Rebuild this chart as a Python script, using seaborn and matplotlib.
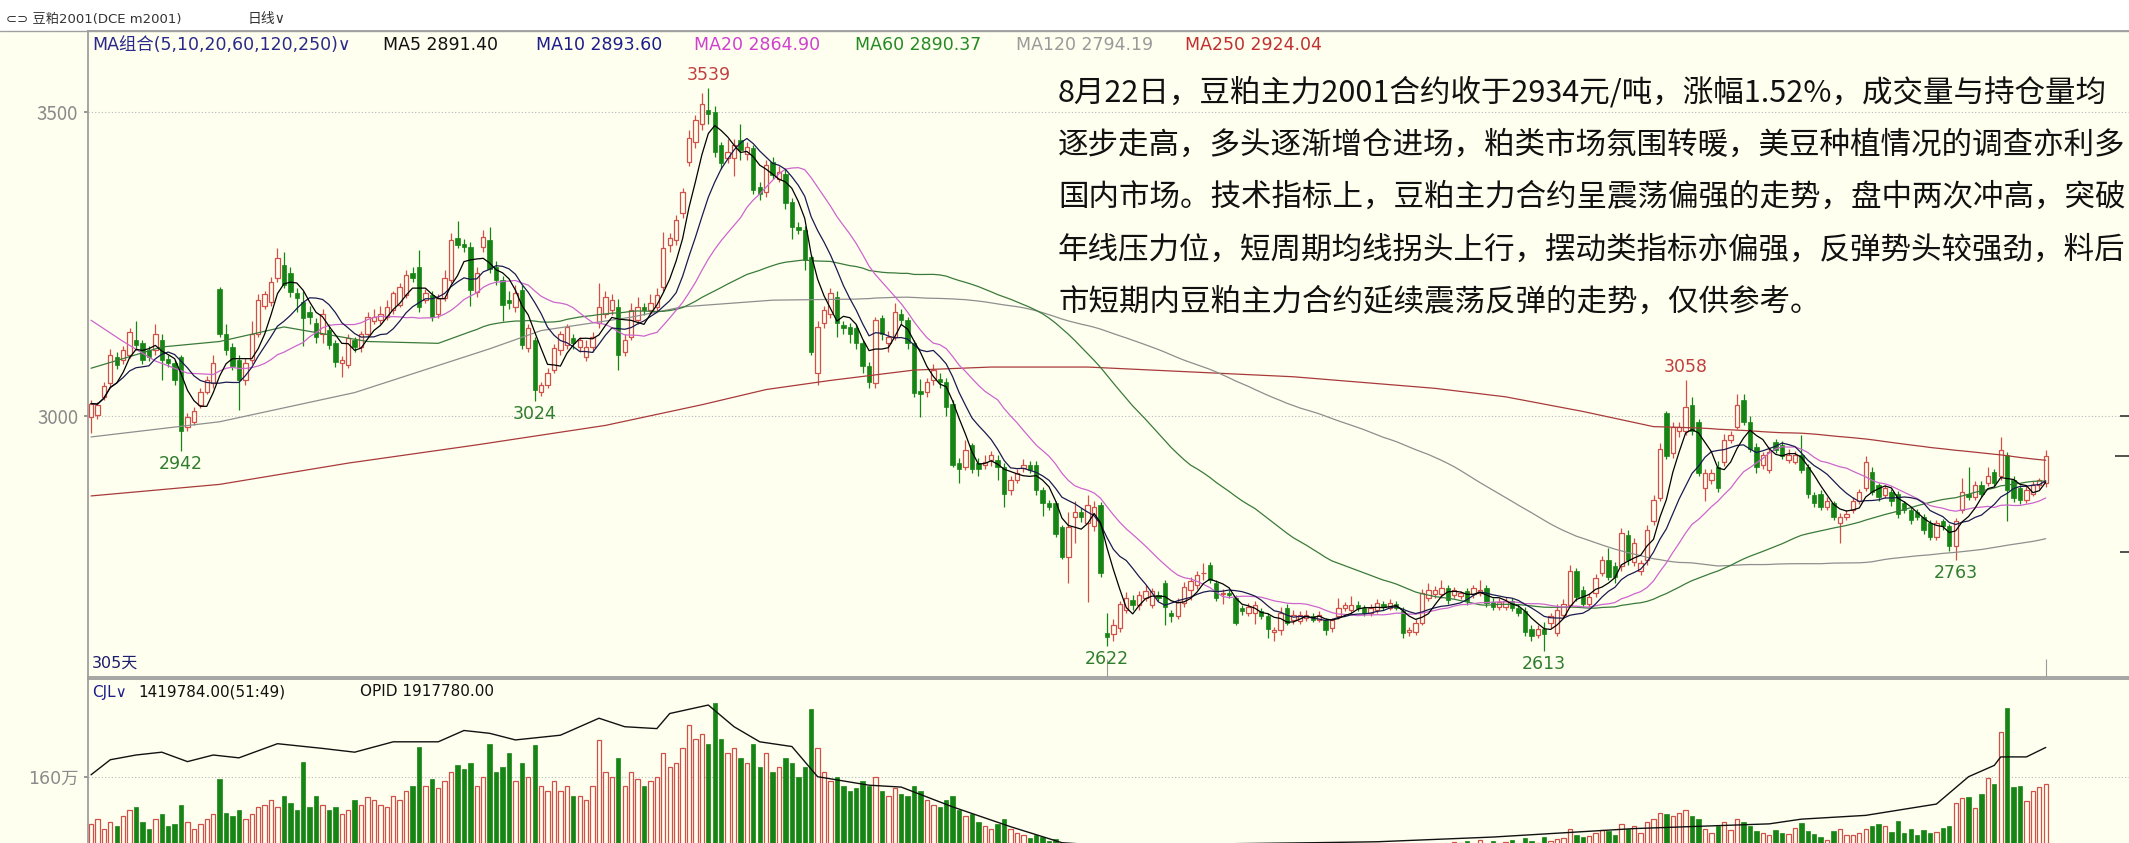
import numpy as np
import pandas as pd
import matplotlib
matplotlib.use("Agg")
import matplotlib.pyplot as plt
from matplotlib.patches import Rectangle
from matplotlib.lines import Line2D
import seaborn as sns

W, H = 2129, 843

# daily candles, 305 days (m2001)
opens = [
    2998, 3001, 3031, 3053, 3097, 3092, 3100, 3124, 3119, 3108,
    3108, 3124, 3094, 3086, 3097, 2982, 2990, 3018, 3039, 3053,
    3209, 3135, 3113, 3092, 3059, 3092, 3135, 3180, 3187, 3226,
    3248, 3234, 3201, 3187, 3171, 3152, 3135, 3141, 3119, 3086,
    3083, 3124, 3113, 3135, 3155, 3157, 3163, 3174, 3182, 3198,
    3234, 3245, 3190, 3198, 3168, 3193, 3223, 3292, 3283, 3278,
    3204, 3278, 3289, 3245, 3223, 3190, 3179, 3207, 3111, 3124,
    3039, 3050, 3075, 3108, 3116, 3127, 3113, 3097, 3113, 3152,
    3168, 3174, 3179, 3105, 3130, 3157, 3179, 3174, 3179, 3212,
    3280, 3289, 3333, 3418, 3450, 3480, 3503, 3500, 3445, 3423,
    3423, 3453, 3431, 3440, 3376, 3368, 3418, 3390, 3398, 3352,
    3311, 3305, 3261, 3070, 3152, 3168, 3196, 3149, 3146, 3144,
    3119, 3081, 3053, 3160, 3119, 3130, 3168, 3157, 3119, 3040,
    3039, 3059, 3061, 3056, 3020, 2922, 2916, 2952, 2922, 2919,
    2927, 2927, 2916, 2878, 2894, 2914, 2919, 2919, 2878, 2856,
    2856, 2817, 2768, 2834, 2842, 2823, 2818, 2853, 2642, 2641,
    2651, 2681, 2697, 2689, 2700, 2689, 2705, 2724, 2676, 2670,
    2692, 2713, 2722, 2741, 2754, 2724, 2706, 2709, 2700, 2683,
    2675, 2675, 2678, 2670, 2645, 2648, 2684, 2664, 2662, 2667,
    2670, 2664, 2664, 2650, 2670, 2684, 2681, 2689, 2683, 2676,
    2681, 2690, 2684, 2690, 2678, 2645, 2645, 2659, 2700, 2706,
    2706, 2717, 2705, 2703, 2711, 2706, 2708, 2717, 2694, 2686,
    2686, 2695, 2684, 2679, 2649, 2640, 2649, 2659, 2642, 2672,
    2689, 2744, 2713, 2691, 2708, 2741, 2763, 2752, 2752, 2804,
    2760, 2744, 2763, 2826, 2864, 3004, 2938, 2974, 2974, 3017,
    2990, 2881, 2894, 2916, 2924, 2960, 2982, 3026, 2990, 2949,
    2919, 2911, 2957, 2952, 2927, 2924, 2935, 2916, 2870, 2872,
    2850, 2856, 2823, 2834, 2845, 2859, 2881, 2908, 2886, 2870,
    2875, 2872, 2856, 2845, 2842, 2834, 2823, 2801, 2826, 2818,
    2785, 2845, 2872, 2867, 2886, 2889, 2908, 2900, 2935, 2894,
    2881, 2861, 2872, 2886, 2889,
]
highs = [
    3026, 3022, 3055, 3110, 3105, 3115, 3145, 3155, 3125, 3115,
    3150, 3135, 3100, 3092, 3100, 3005, 3015, 3045, 3065, 3100,
    3212, 3150, 3120, 3100, 3095, 3155, 3200, 3205, 3228, 3275,
    3270, 3245, 3210, 3205, 3180, 3160, 3175, 3150, 3125, 3098,
    3135, 3130, 3140, 3170, 3175, 3180, 3190, 3205, 3218, 3240,
    3245, 3272, 3208, 3205, 3200, 3240, 3300, 3320, 3290, 3285,
    3245, 3305, 3310, 3255, 3230, 3205, 3215, 3215, 3150, 3130,
    3055, 3078, 3118, 3140, 3150, 3135, 3130, 3125, 3138, 3218,
    3205, 3200, 3192, 3135, 3185, 3195, 3185, 3200, 3210, 3302,
    3300, 3330, 3375, 3470, 3495, 3530, 3539, 3510, 3450, 3455,
    3455, 3480, 3450, 3445, 3385, 3420, 3425, 3410, 3405, 3358,
    3318, 3312, 3265, 3155, 3180, 3210, 3205, 3155, 3152, 3150,
    3125, 3088, 3162, 3165, 3140, 3185, 3175, 3162, 3125, 3060,
    3062, 3085, 3070, 3062, 3025, 2930, 2960, 2955, 2930, 2935,
    2942, 2935, 2922, 2900, 2912, 2928, 2925, 2925, 2882, 2862,
    2860, 2820, 2842, 2860, 2848, 2870, 2860, 2858, 2675, 2665,
    2695, 2710, 2705, 2712, 2722, 2716, 2712, 2730, 2680, 2700,
    2727, 2735, 2745, 2758, 2760, 2730, 2715, 2714, 2705, 2688,
    2692, 2695, 2684, 2675, 2652, 2685, 2690, 2680, 2678, 2680,
    2676, 2678, 2668, 2668, 2700, 2693, 2703, 2695, 2688, 2690,
    2698, 2695, 2698, 2695, 2685, 2652, 2665, 2715, 2725, 2720,
    2730, 2722, 2718, 2712, 2716, 2722, 2730, 2722, 2700, 2700,
    2702, 2700, 2690, 2685, 2655, 2655, 2660, 2675, 2690, 2698,
    2755, 2750, 2720, 2708, 2740, 2770, 2782, 2760, 2815, 2812,
    2798, 2762, 2820, 2870, 2955, 3008, 2990, 2990, 3058, 3030,
    2995, 2912, 2912, 2925, 2970, 2975, 3035, 3035, 3000, 2955,
    2940, 2948, 2962, 2958, 2945, 2942, 2968, 2920, 2875, 2878,
    2866, 2860, 2840, 2845, 2866, 2880, 2933, 2915, 2890, 2886,
    2880, 2876, 2860, 2850, 2846, 2838, 2828, 2828, 2830, 2822,
    2832, 2897, 2916, 2892, 2892, 2916, 2912, 2965, 2940, 2900,
    2886, 2884, 2892, 2898, 2944,
]
lows = [
    2972, 2995, 3025, 3045, 3076, 3085, 3095, 3108, 3085, 3090,
    3100, 3059, 3080, 3050, 2942, 2975, 2985, 3012, 3035, 3045,
    3130, 3100, 3075, 3010, 3050, 3085, 3130, 3175, 3180, 3220,
    3210, 3195, 3170, 3115, 3150, 3120, 3120, 3110, 3080, 3064,
    3078, 3105, 3105, 3130, 3150, 3150, 3158, 3168, 3178, 3193,
    3220, 3170, 3185, 3155, 3160, 3188, 3218, 3275, 3270, 3180,
    3195, 3270, 3235, 3215, 3155, 3175, 3170, 3110, 3105, 3024,
    3033, 3045, 3070, 3100, 3110, 3110, 3105, 3090, 3105, 3145,
    3160, 3165, 3075, 3098, 3125, 3150, 3165, 3168, 3172, 3205,
    3270, 3280, 3325, 3410, 3440, 3470, 3480, 3425, 3405, 3415,
    3395, 3420, 3420, 3365, 3355, 3360, 3390, 3385, 3340, 3290,
    3298, 3240, 3100, 3050, 3145, 3160, 3130, 3135, 3120, 3110,
    3070, 3045, 3045, 3125, 3105, 3125, 3150, 3110, 3030, 2998,
    3030, 3050, 3045, 3000, 2915, 2890, 2910, 2905, 2900, 2912,
    2918, 2895, 2850, 2870, 2890, 2908, 2905, 2870, 2835, 2845,
    2800, 2765, 2724, 2790, 2825, 2694, 2810, 2735, 2622, 2630,
    2645, 2675, 2680, 2680, 2695, 2683, 2695, 2655, 2660, 2665,
    2686, 2697, 2715, 2730, 2725, 2695, 2690, 2700, 2655, 2672,
    2670, 2658, 2665, 2635, 2630, 2640, 2655, 2658, 2658, 2662,
    2660, 2660, 2640, 2645, 2665, 2678, 2676, 2678, 2670, 2670,
    2676, 2680, 2680, 2680, 2635, 2638, 2640, 2655, 2695, 2700,
    2700, 2690, 2700, 2698, 2688, 2700, 2703, 2686, 2680, 2680,
    2680, 2678, 2670, 2638, 2630, 2635, 2613, 2650, 2638, 2668,
    2685, 2695, 2685, 2686, 2702, 2736, 2730, 2725, 2745, 2755,
    2752, 2738, 2755, 2820, 2860, 2928, 2930, 2965, 2968, 2968,
    2900, 2859, 2888, 2875, 2918, 2955, 2978, 2985, 2940, 2905,
    2912, 2905, 2938, 2928, 2922, 2920, 2905, 2865, 2850, 2845,
    2845, 2828, 2790, 2828, 2840, 2854, 2876, 2870, 2860, 2865,
    2852, 2832, 2840, 2822, 2828, 2806, 2795, 2796, 2812, 2778,
    2763, 2840, 2862, 2862, 2866, 2884, 2884, 2895, 2826, 2858,
    2855, 2856, 2868, 2880, 2883,
]
closes = [
    3020, 3018, 3048, 3100, 3083, 3108, 3138, 3116, 3092, 3097,
    3135, 3092, 3086, 3059, 2974, 2998, 3007, 3039, 3059, 3086,
    3135, 3108, 3081, 3059, 3086, 3135, 3190, 3200, 3220, 3259,
    3215, 3204, 3193, 3160, 3163, 3130, 3168, 3116, 3089, 3092,
    3127, 3113, 3135, 3163, 3163, 3168, 3179, 3201, 3212, 3231,
    3226, 3179, 3201, 3163, 3193, 3226, 3289, 3281, 3278, 3207,
    3234, 3294, 3242, 3223, 3182, 3185, 3201, 3116, 3144, 3042,
    3050, 3070, 3111, 3135, 3146, 3119, 3124, 3113, 3130, 3179,
    3196, 3190, 3100, 3124, 3174, 3179, 3174, 3185, 3198, 3275,
    3292, 3322, 3368, 3456, 3486, 3513, 3497, 3434, 3415, 3434,
    3445, 3437, 3442, 3371, 3365, 3412, 3396, 3401, 3349, 3311,
    3305, 3256, 3105, 3146, 3174, 3201, 3152, 3144, 3135, 3119,
    3081, 3056, 3157, 3135, 3130, 3171, 3157, 3119, 3037, 3036,
    3056, 3075, 3056, 3015, 2919, 2913, 2944, 2913, 2913, 2924,
    2935, 2916, 2872, 2894, 2905, 2919, 2911, 2878, 2856, 2850,
    2806, 2768, 2817, 2842, 2834, 2853, 2850, 2741, 2636, 2655,
    2690, 2700, 2689, 2705, 2711, 2711, 2700, 2686, 2670, 2694,
    2719, 2728, 2738, 2741, 2730, 2700, 2708, 2705, 2659, 2678,
    2686, 2689, 2670, 2649, 2648, 2676, 2659, 2672, 2672, 2672,
    2664, 2672, 2648, 2664, 2684, 2689, 2689, 2683, 2676, 2684,
    2692, 2686, 2692, 2684, 2642, 2648, 2659, 2709, 2714, 2714,
    2717, 2697, 2714, 2708, 2695, 2717, 2714, 2692, 2686, 2694,
    2695, 2684, 2676, 2644, 2638, 2649, 2641, 2670, 2681, 2691,
    2744, 2702, 2691, 2702, 2733, 2763, 2735, 2735, 2807, 2763,
    2790, 2757, 2812, 2861, 2946, 2933, 2982, 2982, 3015, 2974,
    2905, 2905, 2905, 2881, 2960, 2968, 3017, 2990, 2946, 2916,
    2935, 2941, 2944, 2933, 2935, 2935, 2911, 2872, 2856, 2850,
    2859, 2834, 2834, 2839, 2859, 2875, 2924, 2875, 2867, 2881,
    2859, 2839, 2845, 2828, 2834, 2812, 2801, 2823, 2818, 2785,
    2826, 2875, 2867, 2886, 2872, 2900, 2889, 2944, 2878, 2864,
    2861, 2878, 2886, 2894, 2934,
]
# volume in 万手 (lower part of the panel is cut off in the screenshot)
volumes = [
    110, 115, 105, 112, 108, 118, 125, 128, 112, 105,
    115, 120, 108, 110, 130, 112, 105, 110, 115, 120,
    158, 122, 118, 125, 115, 120, 128, 130, 135, 128,
    140, 132, 125, 176, 128, 140, 130, 125, 128, 120,
    125, 135, 130, 138, 135, 130, 128, 140, 135, 145,
    150, 192, 150, 158, 148, 155, 165, 172, 168, 175,
    150, 160, 195, 165, 170, 185, 155, 175, 160, 194,
    150, 145, 155, 145, 150, 140, 140, 135, 150, 199,
    165, 160, 180, 150, 165, 158, 150, 155, 160, 185,
    170, 175, 190, 215, 200, 205, 195, 238, 200, 185,
    190, 180, 175, 195, 170, 185, 165, 170, 180, 175,
    160, 170, 232, 190, 165, 155, 160, 150, 145, 148,
    155, 150, 160, 145, 140, 148, 142, 140, 150, 145,
    135, 130, 128, 135, 140, 125, 118, 120, 112, 108,
    105, 110, 115, 105, 100, 98, 95, 98, 96, 92,
    94, 86, 88, 84, 82, 87, 85, 88, 80, 78,
    75, 72, 70, 68, 66, 70, 64, 68, 62, 60,
    64, 62, 60, 58, 62, 60, 64, 66, 62, 60,
    58, 56, 60, 58, 55, 57, 60, 58, 62, 60,
    58, 56, 60, 62, 64, 60, 58, 62, 66, 70,
    68, 72, 70, 68, 75, 78, 80, 84, 82, 86,
    88, 86, 91, 90, 92, 88, 93, 90, 92, 89,
    91, 93, 90, 95, 92, 90, 96, 92, 94, 95,
    105, 98, 96, 97, 100, 104, 102, 98, 110, 105,
    108, 100, 112, 115, 122, 120, 118, 121, 125, 118,
    115, 105, 100, 108, 112, 103, 115, 112, 108, 102,
    100, 98, 104, 100, 99, 106, 111, 102, 99, 96,
    93, 102, 105, 98, 98, 100, 105, 108, 110, 108,
    101, 113, 100, 105, 98, 103, 100, 101, 106, 108,
    132, 137, 139, 127, 142, 159, 152, 207, 233, 149,
    150, 134, 145, 149, 152,
]
# open interest line (same panel), sampled days
opid_idx = [0, 3, 7, 11, 15, 19, 23, 29, 36, 41, 47, 54, 58, 62, 66, 73, 79, 83, 88, 90,
            96, 100, 104, 109, 113, 121, 126, 134, 143, 151, 165, 178, 190, 200, 218, 240,
            261, 266, 276, 287, 292, 296, 297, 301, 304]
opid_vals = [162, 178, 183, 186, 176, 183, 180, 195, 190, 186, 197, 197, 209, 206, 199, 204,
             222, 213, 211, 227, 236, 213, 197, 192, 160, 151, 149, 128, 107, 90, 84, 89, 90,
             91, 96, 105, 110, 115, 119, 131, 160, 172, 181, 181, 191]

# start of the longer averages (history before the window is not on screen)
ma20_head_idx = [0, 5, 10, 15]
ma20_head = [3157, 3122, 3090, 3070]
ma60_head_idx = [0, 11, 20, 30, 36, 43, 54]
ma60_head = [3078, 3113, 3122, 3146, 3135, 3122, 3119]
ma120_head_idx = [0, 20, 41, 62, 70, 84, 92, 106]
ma120_head = [2965, 2990, 3038, 3110, 3140, 3162, 3179, 3190]
ma250_head_idx = [0, 20, 40, 60, 80, 95, 105, 115, 128, 140, 155, 165, 187, 209, 220, 232, 243]
ma250_head = [2868, 2887, 2922, 2952, 2984, 3018, 3043, 3058, 3075, 3080, 3080, 3075, 3064,
              3045, 3031, 3007, 2982]

peak_idx = [96, 248]
trough_idx = [14, 69, 158, 226, 290]

text_lines = [
    "8月22日，豆粕主力2001合约收于2934元/吨，涨幅1.52%，成交量与持仓量均",
    "逐步走高，多头逐渐增仓进场，粕类市场氛围转暖，美豆种植情况的调查亦利多",
    "国内市场。技术指标上，豆粕主力合约呈震荡偏强的走势，盘中两次冲高，突破",
    "年线压力位，短周期均线拐头上行，摆动类指标亦偏强，反弹势头较强劲，料后",
    "市短期内豆粕主力合约延续震荡反弹的走势，仅供参考。",
]

BG = "#FFFFF0"
RED = "#D0504A"
GREEN = "#168516"
GRAY = "#8A8A8A"

sns.set_theme(style="white")
plt.rcParams["font.family"] = ["Noto Sans CJK SC", "DejaVu Sans"]
plt.rcParams["axes.unicode_minus"] = False
LAT = ["DejaVu Sans", "Noto Sans CJK SC"]
CJK = ["Noto Sans CJK SC", "DejaVu Sans"]

df = pd.DataFrame({"open": opens, "high": highs, "low": lows, "close": closes, "vol": volumes})
assert len(df) == 305
df["idx"] = np.arange(len(df))
up = (df["close"] >= df["open"]).values


def fx(px):
    return px / W


def fy(py):
    return 1 - py / H


fig = plt.figure(figsize=(W / 100, H / 100), dpi=100, facecolor=BG)
fig.add_artist(Rectangle((0, fy(31)), 1, 1 - fy(31), transform=fig.transFigure,
                         facecolor="white", edgecolor="none", zorder=0))
fig.add_artist(Line2D([0, 1], [fy(31), fy(31)], transform=fig.transFigure, color="#A0A0A0", lw=1))

ax = fig.add_axes([fx(88), fy(677), 1 - fx(88), fy(31) - fy(677)])
vax = fig.add_axes([fx(88), 0, 1 - fx(88), fy(679)], sharex=ax)
for a in (ax, vax):
    a.set_facecolor(BG)

# candles
lo_body = np.minimum(df["open"], df["close"]).values
h_body = np.maximum(np.abs(df["close"] - df["open"]).values, 0.8)
ax.vlines(df["idx"][up], df["low"][up], df["high"][up], color=RED, lw=0.9, zorder=2)
ax.vlines(df["idx"][~up], df["low"][~up], df["high"][~up], color=GREEN, lw=0.9, zorder=2)
ax.bar(df["idx"][up], h_body[up], bottom=lo_body[up], width=0.68,
       facecolor=BG, edgecolor=RED, lw=0.9, zorder=3)
ax.bar(df["idx"][~up], h_body[~up], bottom=lo_body[~up], width=0.68,
       facecolor=GREEN, edgecolor=GREEN, lw=0.5, zorder=3)


def ma_frame(n, head_idx=None, head_vals=None):
    if head_idx is None:
        roll = df["close"].rolling(n, min_periods=1).mean()
        return pd.DataFrame({"x": df["idx"], "y": roll})
    roll = df["close"].rolling(n).mean()
    xs = list(head_idx) + list(range(n - 1, len(df)))
    ys = list(head_vals) + list(roll.iloc[n - 1:])
    return pd.DataFrame({"x": xs, "y": ys})


ma_lines = [
    (ma_frame(250, ma250_head_idx, ma250_head), "#A83A3A"),
    (ma_frame(120, ma120_head_idx, ma120_head), "#8E8E8E"),
    (ma_frame(60, ma60_head_idx, ma60_head), "#3A7A3A"),
    (ma_frame(20, ma20_head_idx, ma20_head), "#CC66CC"),
    (ma_frame(10), "#1A1A50"),
    (ma_frame(5), "#000000"),
]
for frame, col in ma_lines:
    sns.lineplot(data=frame, x="x", y="y", ax=ax, color=col, lw=0.9, zorder=4)

# extreme price labels
for i in peak_idx:
    ax.annotate(str(highs[i]), (i, highs[i]), xytext=(0, 3), textcoords="offset points",
                ha="center", va="bottom", color="#C04040", fontsize=12.5, family=LAT)
for i in trough_idx:
    ax.annotate(str(lows[i]), (i, lows[i]), xytext=(0, -3), textcoords="offset points",
                ha="center", va="top", color="#2E7D2E", fontsize=12.5, family=LAT)

ax.set_xlim(-0.47, 316.95)
ax.set_ylim(2570.2, 3632.7)
ax.set_xticks([])
ax.set_yticks([3000, 3500])
ax.tick_params(axis="y", colors=GRAY, labelsize=13.5, length=3, pad=4, left=True)
ax.yaxis.grid(True, ls=(0, (1, 2)), color="#B8B8B8", lw=0.8)
ax.set_xlabel("")
ax.set_ylabel("")
for s in ("left", "bottom", "top"):
    ax.spines[s].set_color("#9A9A9A")
ax.spines["right"].set_visible(False)

# small markers on the right edge and at the bottom
ax.hlines([3000, 2775], 315.6, 316.95, color="#333333", lw=1.2)
ax.hlines([closes[-1]], 314.7, 316.95, color="#333333", lw=1.2)
ax.vlines([158, 304], 2570.2, 2600, color="#9A9A9A", lw=0.8)

# volume panel
vax.bar(df["idx"][up], df["vol"][up], width=0.68, facecolor=BG, edgecolor=RED, lw=0.9)
vax.bar(df["idx"][~up], df["vol"][~up], width=0.68, facecolor=GREEN, edgecolor=GREEN, lw=0.5)
sns.lineplot(x=opid_idx, y=opid_vals, ax=vax, color="#111111", lw=1.0)
vax.set_ylim(89.7, 263.6)
vax.set_yticks([160])
vax.set_yticklabels(["160万"], family=LAT)
vax.tick_params(axis="y", colors=GRAY, labelsize=12.5, length=3, pad=4, left=True)
vax.tick_params(axis="x", bottom=False, labelbottom=False)
vax.yaxis.grid(True, ls=(0, (1, 2)), color="#B8B8B8", lw=0.8)
vax.set_xlabel("")
vax.set_ylabel("")
for s in ("left", "top"):
    vax.spines[s].set_color("#9A9A9A")
for s in ("right", "bottom"):
    vax.spines[s].set_visible(False)

# header texts
fig.text(fx(6), fy(19), "⊂⊃ 豆粕2001(DCE m2001)", family=LAT, fontsize=9.5,
         color="#333333", va="center")
fig.text(fx(248), fy(19), "日线∨", family=LAT, fontsize=10, color="#333333", va="center")

ma_labels = [
    (92, "MA组合(5,10,20,60,120,250)∨", "#2A2A8A"),
    (383, "MA5 2891.40", "#111111"),
    (536, "MA10 2893.60", "#1C1C8C"),
    (694, "MA20 2864.90", "#D040D0"),
    (855, "MA60 2890.37", "#248A24"),
    (1016, "MA120 2794.19", "#9A9A9A"),
    (1185, "MA250 2924.04", "#C03030"),
]
for x, s, c in ma_labels:
    fig.text(fx(x), fy(45), s, family=LAT, fontsize=12.5, color=c, va="center")

fig.text(fx(92), fy(663), "305天", family=LAT, fontsize=11.5, color="#1C1C6C", va="center")
fig.text(fx(92), fy(692), "CJL∨", family=LAT, fontsize=11, color="#1C1C8C", va="center")
fig.text(fx(138), fy(692), "1419784.00(51:49)", family=LAT, fontsize=11, color="#111111", va="center")
fig.text(fx(360), fy(692), "OPID 1917780.00", family=LAT, fontsize=11, color="#111111", va="center")

for k, line in enumerate(text_lines):
    fig.text(fx(1058), fy(93 + 52.3 * k), line, family=CJK, fontsize=22,
             color="#111111", va="center")

fig.savefig("out.png", dpi=100, facecolor=BG)
